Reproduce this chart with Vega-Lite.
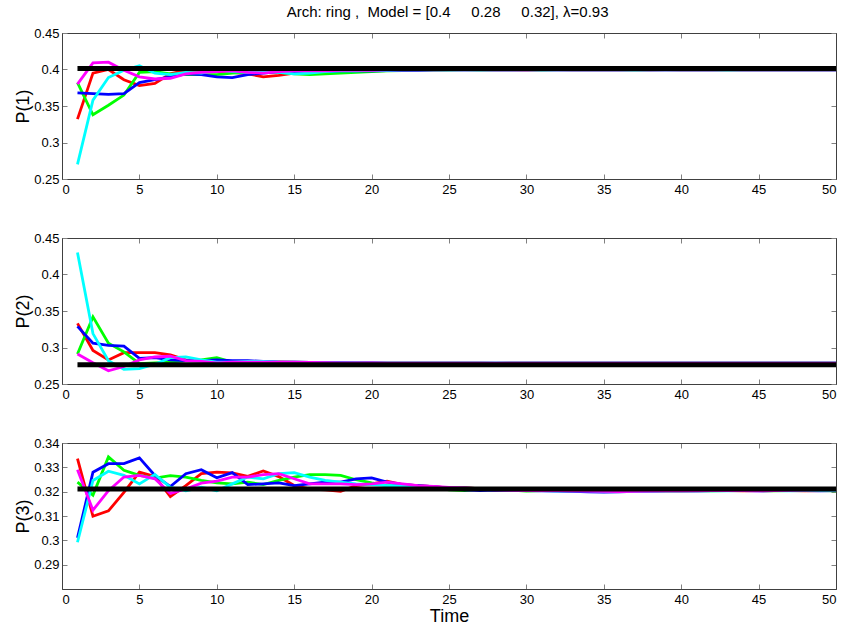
{
  "$schema": "https://vega.github.io/schema/vega-lite/v6.json",
  "background": "white",
  "padding": {"left": 14, "top": 4, "right": 5, "bottom": 5},
  "title": {"text": "Arch: ring ,\u00a0 Model = [0.4\u00a0\u00a0\u00a0\u00a0 0.28\u00a0\u00a0\u00a0\u00a0 0.32], λ=0.93", "font": "Liberation Sans", "fontSize": 15, "fontWeight": "normal", "color": "#000", "offset": 7, "anchor": "middle", "dx": 21},
  "spacing": 59,
  "bounds": "flush",
  "datasets": {
    "ref": [
      {"p": 1, "x1": 1, "x2": 50, "y": 0.4015},
      {"p": 2, "x1": 1, "x2": 50, "y": 0.2762},
      {"p": 3, "x1": 1, "x2": 50, "y": 0.3211}
    ],
    "main": [
      {"p":1,"t":1,"r":0.332,"g":0.382,"b":0.368,"c":0.270,"m":0.380},
      {"p":1,"t":2,"r":0.395,"g":0.338,"b":0.367,"c":0.358,"m":0.409},
      {"p":1,"t":3,"r":0.400,"g":0.351,"b":0.366,"c":0.389,"m":0.410},
      {"p":1,"t":4,"r":0.386,"g":0.365,"b":0.367,"c":0.399,"m":0.399},
      {"p":1,"t":5,"r":0.378,"g":0.396,"b":0.382,"c":0.405,"m":0.390},
      {"p":1,"t":6,"r":0.381,"g":0.397,"b":0.386,"c":0.395,"m":0.387},
      {"p":1,"t":7,"r":0.394,"g":0.394,"b":0.390,"c":0.393,"m":0.388},
      {"p":1,"t":8,"r":0.399,"g":0.393,"b":0.394,"c":0.396,"m":0.394},
      {"p":1,"t":9,"r":0.399,"g":0.393,"b":0.393,"c":0.395,"m":0.396},
      {"p":1,"t":10,"r":0.397,"g":0.393,"b":0.390,"c":0.399,"m":0.397},
      {"p":1,"t":11,"r":0.396,"g":0.395,"b":0.389,"c":0.397,"m":0.398},
      {"p":1,"t":12,"r":0.394,"g":0.396,"b":0.393,"c":0.396,"m":0.396},
      {"p":1,"t":13,"r":0.390,"g":0.397,"b":0.395,"c":0.398,"m":0.395},
      {"p":1,"t":14,"r":0.392,"g":0.396,"b":0.397,"c":0.396,"m":0.397},
      {"p":1,"t":15,"r":0.395,"g":0.394,"b":0.396,"c":0.394,"m":0.398},
      {"p":1,"t":16,"r":0.397,"g":0.393,"b":0.397,"c":0.395,"m":0.398},
      {"p":1,"t":17,"r":0.398,"g":0.394,"b":0.397,"c":0.397,"m":0.398},
      {"p":1,"t":18,"r":0.398,"g":0.395,"b":0.398,"c":0.398,"m":0.399},
      {"p":1,"t":19,"r":0.399,"g":0.396,"b":0.398,"c":0.398,"m":0.399},
      {"p":1,"t":20,"r":0.399,"g":0.397,"b":0.398,"c":0.399,"m":0.399},
      {"p":1,"t":21,"r":0.3995,"g":0.398,"b":0.3985,"c":0.399,"m":0.3995},
      {"p":1,"t":22,"r":0.3995,"g":0.3985,"b":0.399,"c":0.3995,"m":0.3995},
      {"p":1,"t":23,"r":0.3995,"g":0.399,"b":0.399,"c":0.3995,"m":0.3995},
      {"p":1,"t":24,"r":0.3995,"g":0.3993,"b":0.3994,"c":0.3995,"m":0.3996},
      {"p":1,"t":25,"r":0.3996,"g":0.3994,"b":0.3995,"c":0.3996,"m":0.3997},
      {"p":1,"t":26,"r":0.3997,"g":0.3995,"b":0.3994,"c":0.3995,"m":0.3996},
      {"p":1,"t":27,"r":0.3995,"g":0.3996,"b":0.3995,"c":0.3994,"m":0.3997},
      {"p":1,"t":28,"r":0.3998,"g":0.3995,"b":0.3996,"c":0.3995,"m":0.3996},
      {"p":1,"t":29,"r":0.3996,"g":0.3994,"b":0.3995,"c":0.3996,"m":0.3995},
      {"p":1,"t":30,"r":0.3995,"g":0.3996,"b":0.3994,"c":0.3997,"m":0.3996},
      {"p":1,"t":31,"r":0.3996,"g":0.3995,"b":0.3996,"c":0.3995,"m":0.3997},
      {"p":1,"t":32,"r":0.3997,"g":0.3994,"b":0.3995,"c":0.3996,"m":0.3995},
      {"p":1,"t":33,"r":0.3995,"g":0.3996,"b":0.3994,"c":0.3995,"m":0.3996},
      {"p":1,"t":34,"r":0.3996,"g":0.3995,"b":0.3996,"c":0.3994,"m":0.3995},
      {"p":1,"t":35,"r":0.4000,"g":0.3994,"b":0.3995,"c":0.3995,"m":0.3996},
      {"p":1,"t":36,"r":0.3996,"g":0.3996,"b":0.3994,"c":0.3996,"m":0.3995},
      {"p":1,"t":37,"r":0.3995,"g":0.3995,"b":0.3996,"c":0.3995,"m":0.3997},
      {"p":1,"t":38,"r":0.3996,"g":0.3994,"b":0.3995,"c":0.3994,"m":0.3996},
      {"p":1,"t":39,"r":0.3997,"g":0.3996,"b":0.3994,"c":0.3995,"m":0.3995},
      {"p":1,"t":40,"r":0.3995,"g":0.3995,"b":0.3996,"c":0.3996,"m":0.3996},
      {"p":1,"t":41,"r":0.3996,"g":0.3996,"b":0.3995,"c":0.3995,"m":0.3995},
      {"p":1,"t":42,"r":0.3995,"g":0.3994,"b":0.3994,"c":0.3996,"m":0.3996},
      {"p":1,"t":43,"r":0.3996,"g":0.3995,"b":0.3995,"c":0.3995,"m":0.3997},
      {"p":1,"t":44,"r":0.3995,"g":0.3996,"b":0.3996,"c":0.3994,"m":0.3996},
      {"p":1,"t":45,"r":0.3996,"g":0.3995,"b":0.3995,"c":0.3995,"m":0.3995},
      {"p":1,"t":46,"r":0.3995,"g":0.3994,"b":0.3994,"c":0.3996,"m":0.3996},
      {"p":1,"t":47,"r":0.3996,"g":0.3996,"b":0.3995,"c":0.3995,"m":0.3995},
      {"p":1,"t":48,"r":0.3995,"g":0.3995,"b":0.3996,"c":0.3994,"m":0.3996},
      {"p":1,"t":49,"r":0.3996,"g":0.3996,"b":0.3995,"c":0.3995,"m":0.3995},
      {"p":1,"t":50,"r":0.3995,"g":0.3995,"b":0.3994,"c":0.3996,"m":0.3996},

      {"p":2,"t":1,"r":0.333,"g":0.291,"b":0.329,"c":0.430,"m":0.291},
      {"p":2,"t":2,"r":0.296,"g":0.342,"b":0.306,"c":0.319,"m":0.279},
      {"p":2,"t":3,"r":0.283,"g":0.306,"b":0.303,"c":0.282,"m":0.268},
      {"p":2,"t":4,"r":0.293,"g":0.294,"b":0.302,"c":0.270,"m":0.274},
      {"p":2,"t":5,"r":0.293,"g":0.278,"b":0.285,"c":0.271,"m":0.283},
      {"p":2,"t":6,"r":0.293,"g":0.279,"b":0.286,"c":0.277,"m":0.287},
      {"p":2,"t":7,"r":0.290,"g":0.280,"b":0.283,"c":0.286,"m":0.288},
      {"p":2,"t":8,"r":0.283,"g":0.282,"b":0.282,"c":0.287,"m":0.282},
      {"p":2,"t":9,"r":0.282,"g":0.283,"b":0.282,"c":0.283,"m":0.281},
      {"p":2,"t":10,"r":0.281,"g":0.286,"b":0.283,"c":0.280,"m":0.279},
      {"p":2,"t":11,"r":0.281,"g":0.280,"b":0.282,"c":0.280,"m":0.280},
      {"p":2,"t":12,"r":0.280,"g":0.280,"b":0.282,"c":0.281,"m":0.280},
      {"p":2,"t":13,"r":0.280,"g":0.280,"b":0.281,"c":0.281,"m":0.280},
      {"p":2,"t":14,"r":0.280,"g":0.280,"b":0.280,"c":0.280,"m":0.280},
      {"p":2,"t":15,"r":0.2795,"g":0.280,"b":0.280,"c":0.2795,"m":0.2798},
      {"p":2,"t":16,"r":0.2792,"g":0.2795,"b":0.2795,"c":0.2792,"m":0.2795},
      {"p":2,"t":17,"r":0.279,"g":0.2792,"b":0.2793,"c":0.279,"m":0.2792},
      {"p":2,"t":18,"r":0.2788,"g":0.279,"b":0.2792,"c":0.2789,"m":0.279},
      {"p":2,"t":19,"r":0.2788,"g":0.2788,"b":0.279,"c":0.2788,"m":0.2789},
      {"p":2,"t":20,"r":0.2787,"g":0.2787,"b":0.2788,"c":0.2787,"m":0.2788},
      {"p":2,"t":21,"r":0.2786,"g":0.2787,"b":0.2786,"c":0.2785,"m":0.2787},
      {"p":2,"t":22,"r":0.2785,"g":0.2786,"b":0.2787,"c":0.2786,"m":0.2785},
      {"p":2,"t":23,"r":0.2786,"g":0.2785,"b":0.2785,"c":0.2787,"m":0.2786},
      {"p":2,"t":24,"r":0.2787,"g":0.2786,"b":0.2786,"c":0.2785,"m":0.2785},
      {"p":2,"t":25,"r":0.2785,"g":0.2784,"b":0.2785,"c":0.2786,"m":0.2786},
      {"p":2,"t":26,"r":0.2784,"g":0.2785,"b":0.2786,"c":0.2785,"m":0.2785},
      {"p":2,"t":27,"r":0.2785,"g":0.2786,"b":0.2785,"c":0.2784,"m":0.2786},
      {"p":2,"t":28,"r":0.2783,"g":0.2785,"b":0.2784,"c":0.2785,"m":0.2785},
      {"p":2,"t":29,"r":0.2785,"g":0.2786,"b":0.2785,"c":0.2786,"m":0.2784},
      {"p":2,"t":30,"r":0.2786,"g":0.2785,"b":0.2786,"c":0.2785,"m":0.2785},
      {"p":2,"t":31,"r":0.2785,"g":0.2784,"b":0.2785,"c":0.2784,"m":0.2786},
      {"p":2,"t":32,"r":0.2786,"g":0.2785,"b":0.2784,"c":0.2785,"m":0.2785},
      {"p":2,"t":33,"r":0.2785,"g":0.2786,"b":0.2785,"c":0.2786,"m":0.2784},
      {"p":2,"t":34,"r":0.2784,"g":0.2785,"b":0.2786,"c":0.2785,"m":0.2785},
      {"p":2,"t":35,"r":0.2785,"g":0.2784,"b":0.2785,"c":0.2786,"m":0.2786},
      {"p":2,"t":36,"r":0.2786,"g":0.2785,"b":0.2786,"c":0.2785,"m":0.2785},
      {"p":2,"t":37,"r":0.2785,"g":0.2786,"b":0.2785,"c":0.2784,"m":0.2786},
      {"p":2,"t":38,"r":0.2784,"g":0.2785,"b":0.2784,"c":0.2785,"m":0.2785},
      {"p":2,"t":39,"r":0.2785,"g":0.2784,"b":0.2785,"c":0.2786,"m":0.2784},
      {"p":2,"t":40,"r":0.2786,"g":0.2785,"b":0.2786,"c":0.2785,"m":0.2785},
      {"p":2,"t":41,"r":0.2785,"g":0.2786,"b":0.2785,"c":0.2784,"m":0.2786},
      {"p":2,"t":42,"r":0.2784,"g":0.2785,"b":0.2784,"c":0.2785,"m":0.2785},
      {"p":2,"t":43,"r":0.2785,"g":0.2784,"b":0.2785,"c":0.2786,"m":0.2784},
      {"p":2,"t":44,"r":0.2786,"g":0.2785,"b":0.2786,"c":0.2785,"m":0.2785},
      {"p":2,"t":45,"r":0.2785,"g":0.2786,"b":0.2785,"c":0.2784,"m":0.2786},
      {"p":2,"t":46,"r":0.2784,"g":0.2785,"b":0.2784,"c":0.2785,"m":0.2785},
      {"p":2,"t":47,"r":0.2785,"g":0.2784,"b":0.2785,"c":0.2786,"m":0.2784},
      {"p":2,"t":48,"r":0.2786,"g":0.2786,"b":0.2786,"c":0.2785,"m":0.2785},
      {"p":2,"t":49,"r":0.2785,"g":0.2785,"b":0.2785,"c":0.2784,"m":0.2786},
      {"p":2,"t":50,"r":0.2784,"g":0.2786,"b":0.2784,"c":0.2785,"m":0.2785},

      {"p":3,"t":1,"r":0.3336,"g":0.3239,"b":0.3010,"c":0.2992,"m":0.3290},
      {"p":3,"t":2,"r":0.3099,"g":0.3186,"b":0.3280,"c":0.3246,"m":0.3124},
      {"p":3,"t":3,"r":0.3121,"g":0.3343,"b":0.3315,"c":0.3284,"m":0.3204},
      {"p":3,"t":4,"r":0.3197,"g":0.3288,"b":0.3315,"c":0.3267,"m":0.3260},
      {"p":3,"t":5,"r":0.3280,"g":0.3267,"b":0.3339,"c":0.3232,"m":0.3267},
      {"p":3,"t":6,"r":0.3262,"g":0.3256,"b":0.3267,"c":0.3271,"m":0.3253},
      {"p":3,"t":7,"r":0.3180,"g":0.3266,"b":0.3221,"c":0.3218,"m":0.3193},
      {"p":3,"t":8,"r":0.3225,"g":0.3260,"b":0.3274,"c":0.3204,"m":0.3211},
      {"p":3,"t":9,"r":0.3274,"g":0.3246,"b":0.3290,"c":0.3218,"m":0.3235},
      {"p":3,"t":10,"r":0.3280,"g":0.3236,"b":0.3257,"c":0.3204,"m":0.3243},
      {"p":3,"t":11,"r":0.3277,"g":0.3232,"b":0.3278,"c":0.3232,"m":0.3260},
      {"p":3,"t":12,"r":0.3263,"g":0.3239,"b":0.3229,"c":0.3260,"m":0.3260},
      {"p":3,"t":13,"r":0.3285,"g":0.3229,"b":0.3232,"c":0.3253,"m":0.3270},
      {"p":3,"t":14,"r":0.3262,"g":0.3246,"b":0.3236,"c":0.3274,"m":0.3274},
      {"p":3,"t":15,"r":0.3225,"g":0.3260,"b":0.3225,"c":0.3278,"m":0.3253},
      {"p":3,"t":16,"r":0.3211,"g":0.3270,"b":0.3232,"c":0.3260,"m":0.3232},
      {"p":3,"t":17,"r":0.3207,"g":0.3270,"b":0.3239,"c":0.3246,"m":0.3232},
      {"p":3,"t":18,"r":0.3201,"g":0.3267,"b":0.3239,"c":0.3239,"m":0.3232},
      {"p":3,"t":19,"r":0.3225,"g":0.3249,"b":0.3253,"c":0.3232,"m":0.3229},
      {"p":3,"t":20,"r":0.3232,"g":0.3236,"b":0.3257,"c":0.3229,"m":0.3232},
      {"p":3,"t":21,"r":0.3243,"g":0.3225,"b":0.3239,"c":0.3225,"m":0.3239},
      {"p":3,"t":22,"r":0.3229,"g":0.3225,"b":0.3229,"c":0.3225,"m":0.3232},
      {"p":3,"t":23,"r":0.3225,"g":0.3225,"b":0.3225,"c":0.3222,"m":0.3225},
      {"p":3,"t":24,"r":0.3221,"g":0.3218,"b":0.3221,"c":0.3218,"m":0.3222},
      {"p":3,"t":25,"r":0.3215,"g":0.3207,"b":0.3215,"c":0.3215,"m":0.3218},
      {"p":3,"t":26,"r":0.3218,"g":0.3204,"b":0.3207,"c":0.3215,"m":0.3215},
      {"p":3,"t":27,"r":0.3211,"g":0.3211,"b":0.3204,"c":0.3212,"m":0.3211},
      {"p":3,"t":28,"r":0.3207,"g":0.3207,"b":0.3206,"c":0.3208,"m":0.3207},
      {"p":3,"t":29,"r":0.3205,"g":0.3206,"b":0.3205,"c":0.3206,"m":0.3205},
      {"p":3,"t":30,"r":0.3204,"g":0.3202,"b":0.3204,"c":0.3205,"m":0.3204},
      {"p":3,"t":31,"r":0.3205,"g":0.3204,"b":0.3203,"c":0.3204,"m":0.3205},
      {"p":3,"t":32,"r":0.3204,"g":0.3205,"b":0.3202,"c":0.3203,"m":0.3204},
      {"p":3,"t":33,"r":0.3203,"g":0.3204,"b":0.3201,"c":0.3204,"m":0.3203},
      {"p":3,"t":34,"r":0.3204,"g":0.3203,"b":0.3199,"c":0.3203,"m":0.3202},
      {"p":3,"t":35,"r":0.3202,"g":0.3204,"b":0.3198,"c":0.3201,"m":0.3201},
      {"p":3,"t":36,"r":0.3203,"g":0.3203,"b":0.3199,"c":0.3202,"m":0.3200},
      {"p":3,"t":37,"r":0.3202,"g":0.3204,"b":0.3201,"c":0.3201,"m":0.3201},
      {"p":3,"t":38,"r":0.3203,"g":0.3203,"b":0.3202,"c":0.3202,"m":0.3202},
      {"p":3,"t":39,"r":0.3204,"g":0.3204,"b":0.3203,"c":0.3203,"m":0.3203},
      {"p":3,"t":40,"r":0.3203,"g":0.3203,"b":0.3204,"c":0.3204,"m":0.3204},
      {"p":3,"t":41,"r":0.3204,"g":0.3204,"b":0.3203,"c":0.3203,"m":0.3203},
      {"p":3,"t":42,"r":0.3205,"g":0.3203,"b":0.3204,"c":0.3204,"m":0.3204},
      {"p":3,"t":43,"r":0.3204,"g":0.3204,"b":0.3205,"c":0.3203,"m":0.3205},
      {"p":3,"t":44,"r":0.3203,"g":0.3205,"b":0.3204,"c":0.3204,"m":0.3204},
      {"p":3,"t":45,"r":0.3204,"g":0.3204,"b":0.3203,"c":0.3205,"m":0.3203},
      {"p":3,"t":46,"r":0.3205,"g":0.3203,"b":0.3204,"c":0.3204,"m":0.3204},
      {"p":3,"t":47,"r":0.3204,"g":0.3204,"b":0.3205,"c":0.3203,"m":0.3205},
      {"p":3,"t":48,"r":0.3203,"g":0.3205,"b":0.3204,"c":0.3204,"m":0.3206},
      {"p":3,"t":49,"r":0.3204,"g":0.3204,"b":0.3203,"c":0.3205,"m":0.3207},
      {"p":3,"t":50,"r":0.3205,"g":0.3203,"b":0.3204,"c":0.3204,"m":0.3207}
    ]
  },
  "vconcat": [
    {
      "width": 774, "height": 146,
      "layer": [
        {
          "data": {"name": "main"},
          "transform": [{"filter": "datum.p == 1"}, {"fold": ["r", "g", "b", "c", "m"], "as": ["s", "v"]}],
          "mark": {"type": "line", "strokeWidth": 2.8, "clip": true},
          "encoding": {
            "x": {"field": "t", "type": "quantitative", "scale": {"domain": [0, 50], "nice": false}, "axis": {"orient": "bottom", "values": [0,5,10,15,20,25,30,35,40,45,50], "title": null}},
            "y": {"field": "v", "type": "quantitative", "scale": {"domain": [0.25, 0.45], "nice": false, "zero": false}, "axis": {"orient": "left", "values": [0.25,0.3,0.35,0.4,0.45], "format": ".2~f", "title": "P(1)"}},
            "color": {"field": "s", "type": "nominal", "scale": {"domain": ["r","g","b","c","m"], "range": ["#ff0000","#00ff00","#0000ff","#00ffff","#ff00ff"]}, "legend": null}
          }
        },
        {
          "data": {"name": "ref"},
          "transform": [{"filter": "datum.p == 1"}],
          "mark": {"type": "rule", "strokeWidth": 5, "color": "#000"},
          "encoding": {
            "x": {"field": "x1", "type": "quantitative", "axis": {"orient": "top", "values": [0,5,10,15,20,25,30,35,40,45,50], "labels": false, "title": null}},
            "x2": {"field": "x2"},
            "y": {"field": "y", "type": "quantitative", "axis": {"orient": "right", "values": [0.25,0.3,0.35,0.4,0.45], "labels": false, "title": null}}
          }
        }
      ],
      "resolve": {"axis": {"x": "independent", "y": "independent"}}
    },
    {
      "width": 774, "height": 146,
      "layer": [
        {
          "data": {"name": "main"},
          "transform": [{"filter": "datum.p == 2"}, {"fold": ["r", "g", "b", "c", "m"], "as": ["s", "v"]}],
          "mark": {"type": "line", "strokeWidth": 2.8, "clip": true},
          "encoding": {
            "x": {"field": "t", "type": "quantitative", "scale": {"domain": [0, 50], "nice": false}, "axis": {"orient": "bottom", "values": [0,5,10,15,20,25,30,35,40,45,50], "title": null}},
            "y": {"field": "v", "type": "quantitative", "scale": {"domain": [0.25, 0.45], "nice": false, "zero": false}, "axis": {"orient": "left", "values": [0.25,0.3,0.35,0.4,0.45], "format": ".2~f", "title": "P(2)"}},
            "color": {"field": "s", "type": "nominal", "scale": {"domain": ["r","g","b","c","m"], "range": ["#ff0000","#00ff00","#0000ff","#00ffff","#ff00ff"]}, "legend": null}
          }
        },
        {
          "data": {"name": "ref"},
          "transform": [{"filter": "datum.p == 2"}],
          "mark": {"type": "rule", "strokeWidth": 5, "color": "#000"},
          "encoding": {
            "x": {"field": "x1", "type": "quantitative", "axis": {"orient": "top", "values": [0,5,10,15,20,25,30,35,40,45,50], "labels": false, "title": null}},
            "x2": {"field": "x2"},
            "y": {"field": "y", "type": "quantitative", "axis": {"orient": "right", "values": [0.25,0.3,0.35,0.4,0.45], "labels": false, "title": null}}
          }
        }
      ],
      "resolve": {"axis": {"x": "independent", "y": "independent"}}
    },
    {
      "width": 774, "height": 146,
      "layer": [
        {
          "data": {"name": "main"},
          "transform": [{"filter": "datum.p == 3"}, {"fold": ["r", "g", "b", "c", "m"], "as": ["s", "v"]}],
          "mark": {"type": "line", "strokeWidth": 2.8, "clip": true},
          "encoding": {
            "x": {"field": "t", "type": "quantitative", "scale": {"domain": [0, 50], "nice": false}, "axis": {"orient": "bottom", "values": [0,5,10,15,20,25,30,35,40,45,50], "title": "Time"}},
            "y": {"field": "v", "type": "quantitative", "scale": {"domain": [0.28, 0.34], "nice": false, "zero": false}, "axis": {"orient": "left", "values": [0.29,0.3,0.31,0.32,0.33,0.34], "format": ".2~f", "title": "P(3)"}},
            "color": {"field": "s", "type": "nominal", "scale": {"domain": ["r","g","b","c","m"], "range": ["#ff0000","#00ff00","#0000ff","#00ffff","#ff00ff"]}, "legend": null}
          }
        },
        {
          "data": {"name": "ref"},
          "transform": [{"filter": "datum.p == 3"}],
          "mark": {"type": "rule", "strokeWidth": 5, "color": "#000"},
          "encoding": {
            "x": {"field": "x1", "type": "quantitative", "axis": {"orient": "top", "values": [0,5,10,15,20,25,30,35,40,45,50], "labels": false, "title": null}},
            "x2": {"field": "x2"},
            "y": {"field": "y", "type": "quantitative", "axis": {"orient": "right", "values": [0.29,0.3,0.31,0.32,0.33,0.34], "labels": false, "title": null}}
          }
        }
      ],
      "resolve": {"axis": {"x": "independent", "y": "independent"}}
    }
  ],
  "config": {
    "font": "Liberation Sans",
    "view": {"stroke": "#404040", "strokeWidth": 1},
    "axis": {
      "grid": false,
      "domainColor": "#404040",
      "tickColor": "#808080",
      "tickSize": -5,
      "labelPadding": 8,
      "labelFont": "Liberation Sans",
      "labelFontSize": 13,
      "labelColor": "#000",
      "titleFont": "Liberation Sans",
      "titleFontSize": 18,
      "titleFontWeight": "normal",
      "titleColor": "#000",
      "titlePadding": 1
    },
    "axisBottom": {"labelPadding": 9, "titlePadding": 1}
  }
}
